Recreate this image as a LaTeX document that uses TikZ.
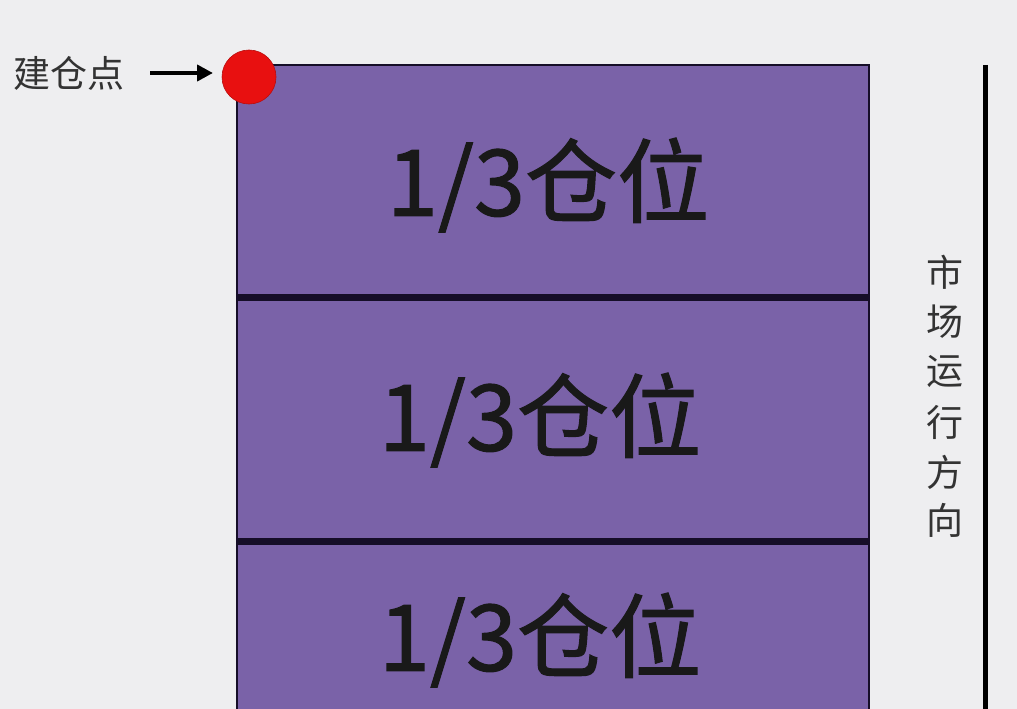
\documentclass[tikz,border=0pt]{standalone}
\usepackage{fontspec}
\newfontfamily\cjk{Noto Sans CJK SC}
\newfontfamily\cjkbold[FakeBold=1.2]{Noto Sans CJK SC}
\usetikzlibrary{arrows.meta}
\definecolor{bg}{RGB}{238,238,240}
\definecolor{boxfill}{RGB}{122,98,168}
\definecolor{divider}{RGB}{22,14,40}
\definecolor{dotred}{RGB}{232,16,16}
\tikzset{
  posbox/.style={fill=boxfill,draw=divider,line width=1.2pt},
  divline/.style={draw=divider,line width=7pt},
  poslabel/.style={font=\cjkbold\fontsize{92}{92}\selectfont,text=black!90,inner sep=0pt},
  sidelabel/.style={font=\cjk\fontsize{37}{37}\selectfont,text=black!80,inner sep=0pt},
  arr/.style={-{Triangle[length=16pt,width=16pt]},line width=4pt,black}
}
\begin{document}
\begin{tikzpicture}[x=1pt,y=-1pt]
\useasboundingbox (0,0) rectangle (1017,709);
\clip (0,0) rectangle (1017,709);
\fill[bg] (0,0) rectangle (1017,709);
% box
\path[posbox] (237,65) rectangle (869,760);
\coordinate (d1l) at (237,297); \coordinate (d1r) at (869,297);
\coordinate (d2l) at (237,541); \coordinate (d2r) at (869,541);
\draw[divline] (d1l) -- (d1r);
\draw[divline] (d2l) -- (d2r);
% labels
\node[poslabel] (p1) at (548,185) {1/3仓位};
\node[poslabel] (p2) at (540,420) {1/3仓位};
\node[poslabel] (p3) at (540,640) {1/3仓位};
% red dot
\node[circle,fill=dotred,draw=dotred!80!black,line width=0.6pt,minimum size=54pt,inner sep=0pt] (dot) at (249,77) {};
% build label and arrow
\node[sidelabel,anchor=west] (build) at (13,73) {建仓点};
\coordinate (as) at (150,73);
\coordinate (ae) at (213,73);
\draw[arr] (as) -- (ae);
% right line
\coordinate (rt) at (985,65); \coordinate (rb) at (985,712);
\draw[line width=5pt,black] (rt) -- (rb);
% vertical text
\node[sidelabel] (v1) at (945,272) {市};
\node[sidelabel] (v2) at (945,322) {场};
\node[sidelabel] (v3) at (945,372) {运};
\node[sidelabel] (v4) at (945,422) {行};
\node[sidelabel] (v5) at (945,472) {方};
\node[sidelabel] (v6) at (945,520) {向};
\end{tikzpicture}
\end{document}
